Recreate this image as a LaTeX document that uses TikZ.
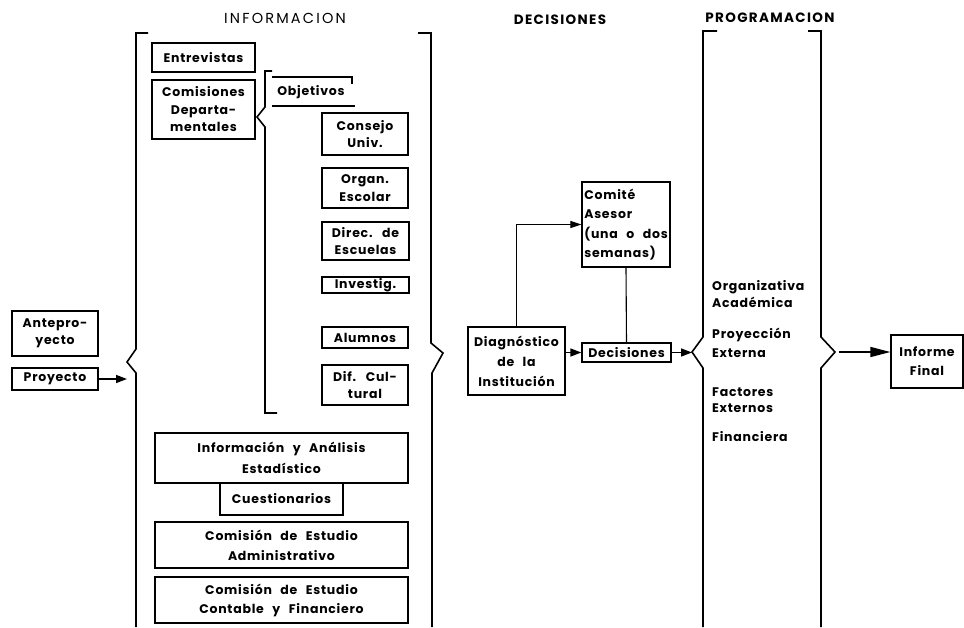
\documentclass[tikz,border=0pt]{standalone}
\usepackage{fontspec}
\setmainfont{Poppins}[LetterSpace=6, WordSpace=2.5]
\usetikzlibrary{arrows.meta}
\begin{document}
\begin{tikzpicture}[x=1pt,y=-1pt,
  box/.style={draw, line width=1.3pt, inner sep=0pt, align=center, font=\bfseries\fontsize{12.5}{17.5}\selectfont},
  lbl/.style={inner sep=0pt, align=left, font=\bfseries\fontsize{12.5}{17.5}\selectfont},
  ttl/.style={inner sep=0pt, font=\addfontfeatures{LetterSpace=15}\fontsize{14.5}{15}\selectfont},
  ttlb/.style={inner sep=0pt, font=\bfseries\addfontfeatures{LetterSpace=10}\fontsize{13.5}{15}\selectfont},
  brk/.style={line width=1.6pt, line join=miter},
  arr/.style={-{Triangle[length=11pt,width=8pt]}, line width=1.5pt},
  arrthin/.style={-{Triangle[length=11pt,width=7pt]}, line width=1.1pt},
  arrbig/.style={-{Triangle[length=20pt,width=10pt]}, line width=1.5pt}]
\useasboundingbox (0,0) rectangle (964,627);

% titles
\node[ttl] (tinfo) at (285,18) {INFORMACION};
\node[ttlb] (tdec) at (560,20) {DECISIONES};
\node[ttlb] (tprog) at (770,18) {PROGRAMACION};

% brackets
\draw[brk] (148,33) -- (136,33) -- (136,349) -- (127,362) -- (136,373) -- (136,627);
\draw[brk] (418,33) -- (431,33) -- (431,343) -- (443,353) -- (432,373) -- (432,627);
\draw[brk] (272,71) -- (265,71) -- (265,107) -- (257,117) -- (265,127) -- (265,413) -- (277,413);
\draw[brk] (717,31) -- (703,31) -- (703,337) -- (692,352) -- (703,368) -- (703,627);
\draw[brk] (808,31) -- (821,31) -- (821,337) -- (835,352) -- (821,368) -- (821,627);

% left boxes
\node[box, minimum width=86, minimum height=45] (ante) at (55,333.5) {Antepro-\\yecto};
\node[box, minimum width=86, minimum height=22] (proy) at (55,379) {Proyecto};

% informacion boxes
\node[box, minimum width=103, minimum height=29] (entrev) at (203.5,57.5) {Entrevistas};
\node[box, minimum width=103, minimum height=59, font=\bfseries\fontsize{12.5}{17.5}\selectfont] (comis) at (203.5,109.5) {Comisiones\\Departa-\\mentales};
\node[lbl] (obj) at (311,92) {Objetivos};
\draw[line width=1.3pt] (272,77) -- (352,77) -- (352,84);
\draw[line width=1.3pt] (272,106) -- (355,106);
\node[box, minimum width=86, minimum height=42] (consejo) at (365,134) {Consejo\\Univ.};
\node[box, minimum width=86, minimum height=40] (organ) at (365,188) {Organ.\\Escolar};
\node[box, minimum width=87, minimum height=38] (direc) at (365.5,241) {Direc. de\\Escuelas};
\node[box, minimum width=87, minimum height=16] (invest) at (365.5,285) {Investig.};
\node[box, minimum width=86, minimum height=21] (alum) at (365,337.5) {Alumnos};
\node[box, minimum width=86, minimum height=40] (dif) at (365,385) {Dif. Cul-\\tural};
\node[box, minimum width=253, minimum height=50, font=\bfseries\fontsize{12.5}{21}\selectfont] (infoan) at (281.5,458) {Información y Análisis\\Estadístico};
\node[box, minimum width=123, minimum height=32] (cuest) at (281.5,499) {Cuestionarios};
\node[box, minimum width=253, minimum height=46, font=\bfseries\fontsize{12.5}{20}\selectfont] (adm) at (281.5,545) {Comisión de Estudio\\Administrativo};
\node[box, minimum width=253, minimum height=46, font=\bfseries\fontsize{12.5}{19}\selectfont] (cont) at (281.5,600) {Comisión de Estudio\\Contable y Financiero};

% decisiones
\node[box, minimum width=97, minimum height=68, font=\bfseries\fontsize{12.5}{20}\selectfont] (diag) at (516.5,361) {Diagnóstico\\de la\\Institución};
\node[box, minimum width=89, minimum height=19] (dec) at (626.5,352.5) {Decisiones};
\node[box, minimum width=88, minimum height=85, align=left, font=\bfseries\fontsize{12.5}{19.3}\selectfont] (comite) at (626,224.5) {Comité\\Asesor\\(una o dos\\semanas)};

% programacion
\node[lbl, anchor=west, font=\bfseries\fontsize{12.5}{17}\selectfont] (p1) at (712,294.5) {Organizativa\\Académica};
\node[lbl, anchor=west, font=\bfseries\fontsize{12.5}{19}\selectfont] (p2) at (712,342.5) {Proyección\\Externa};
\node[lbl, anchor=west, font=\bfseries\fontsize{12.5}{16}\selectfont] (p3) at (712,400.5) {Factores\\Externos};
\node[lbl, anchor=west] (p4) at (712,437) {Financiera};
\node[box, minimum width=72, minimum height=53, font=\bfseries\fontsize{12.5}{19}\selectfont] (inf) at (927,361.5) {Informe\\Final};

% connectors
\coordinate (infoLtip) at (127,379);
\coordinate (progLtip) at (692,352.5);
\coordinate (progRtip) at (839,352);
\draw[arr] (proy.east) -- (infoLtip);
\draw[arr] (diag.east |- dec.west) -- (dec.west);
\draw[arrthin] (diag.north) |- (comite.west);
\draw[line width=1.1pt] (comite.south) -- (dec.north);
\draw[arr] (dec.east) -- (progLtip);
\draw[arrbig] (progRtip) -- (progRtip -| inf.west);
\end{tikzpicture}
\end{document}
